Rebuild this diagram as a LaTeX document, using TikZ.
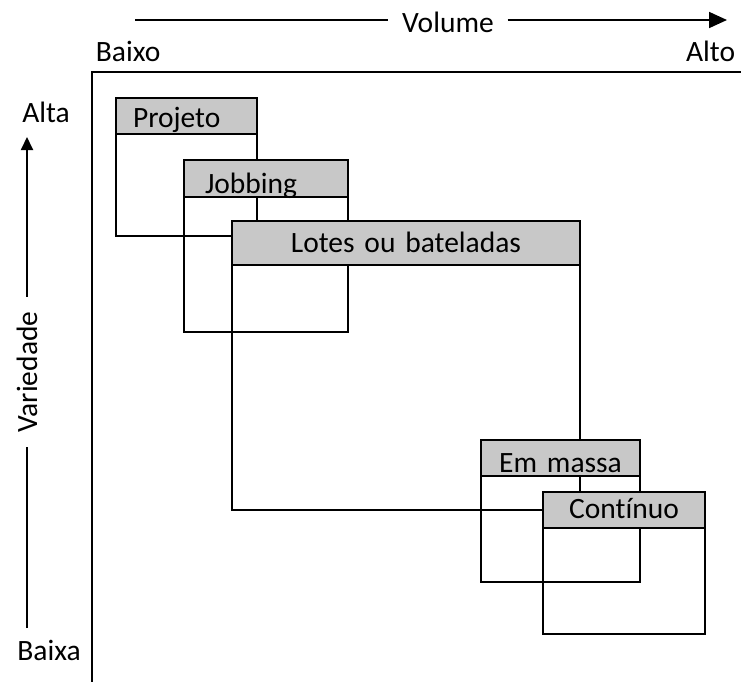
\documentclass[tikz,border=0pt]{standalone}
\usepackage{fontspec}
\setmainfont{Carlito}[Ligatures=NoCommon]
\usetikzlibrary{arrows.meta,positioning}
\definecolor{headgray}{RGB}{200,200,200}

\tikzset{
  head/.style={draw, fill=headgray, anchor=north west, inner ysep=0pt, outer sep=0pt},
  body/.style={draw, inner sep=0pt, outer sep=0pt},
  axlabel/.style={inner sep=0pt}
}

\begin{document}
\begin{tikzpicture}[x=1pt, y=-1pt, line width=1.8pt, font=\fontsize{29.5}{34}\selectfont]
  \useasboundingbox (0,0) rectangle (741,682);
  % frame
  \draw (92,682) -- (92,72) -- (741,72);
  % volume axis
  \node[inner xsep=13pt, inner ysep=0pt] (vol) at (448,22) {Volume};
  \coordinate (vol0) at (135,20);
  \coordinate (vol1) at (727,20);
  \draw (vol0) -- (vol.west |- vol0);
  \draw[-{Triangle[length=18pt,width=16pt]}] (vol.east |- vol1) -- (vol1);
  \node[axlabel, anchor=base west] (baixo) at (95,62) {Baixo};
  \node[axlabel, anchor=base east] (alto) at (736,62) {Alto};
  % variety axis
  \node[rotate=90, inner xsep=14pt, inner ysep=0pt] (var) at (27,372) {Variedade};
  \coordinate (var0) at (27,628);
  \coordinate (var1) at (27,137);
  \draw (var0) -- (var.west -| var0);
  \draw[-{Triangle[length=13pt,width=12pt]}] (var.east -| var1) -- (var1);
  \node[axlabel, anchor=base] (alta) at (46,122) {Alta};
  \node[axlabel, anchor=base] (baixa) at (49,660) {Baixa};
  % process types
  \node[head, inner xsep=17pt, text width=107pt, align=left, text height=30pt, text depth=6pt] (proj) at (116,98) {Projeto};
  \node[body, below=0pt of proj, minimum width=141pt, minimum height=102pt] (projb) {};
  \node[head, inner xsep=21pt, text width=122pt, align=left, text height=33pt, text depth=4pt] (job) at (184,160) {Jobbing};
  \node[body, below=0pt of job, minimum width=164pt, minimum height=135pt] (jobb) {};
  \node[head, inner xsep=10pt, text width=328pt, align=center, text height=31pt, text depth=13pt] (lot) at (232,221) {Lotes ou bateladas};
  \node[body, below=0pt of lot, minimum width=348pt, minimum height=245pt] (lotb) {};
  \node[head, inner xsep=10pt, text width=139pt, align=center, text height=32pt, text depth=4pt] (mas) at (481,440) {Em massa};
  \node[body, below=0pt of mas, minimum width=159pt, minimum height=106pt] (masb) {};
  \node[head, inner xsep=10pt, text width=142pt, align=center, text height=26pt, text depth=10pt] (cont) at (543,492) {Contínuo};
  \node[body, below=0pt of cont, minimum width=162pt, minimum height=106pt] (contb) {};
\end{tikzpicture}
\end{document}
